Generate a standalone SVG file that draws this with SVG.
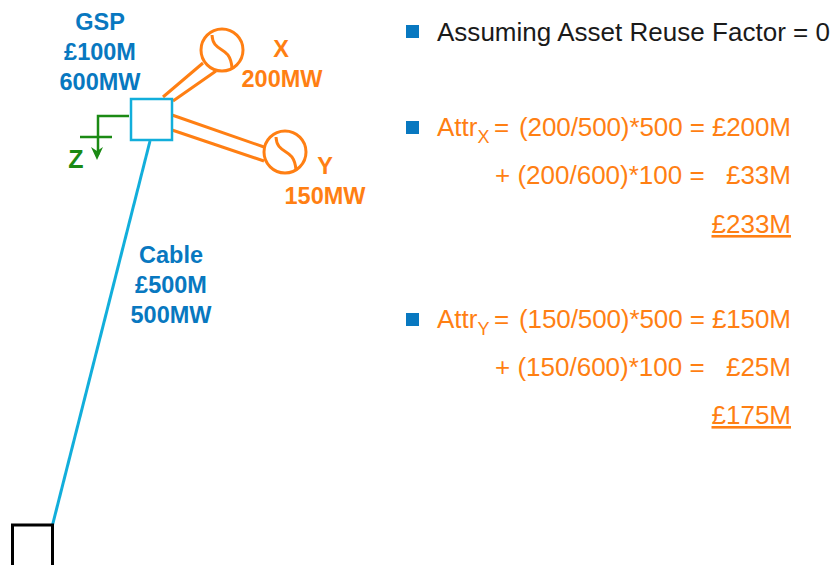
<svg xmlns="http://www.w3.org/2000/svg" width="832" height="565" viewBox="0 0 832 565">
<defs>
<style>
text{font-family:"Liberation Sans",Arial,sans-serif}
.lb{font-size:23.500px;font-weight:bold;text-anchor:middle}
.blue{fill:#0878c0}
.org{fill:#ff7f13}
.t{font-size:26px}
.e{font-size:26px;text-anchor:end;fill:#ff7f13}
.or{fill:none;stroke:#ff7f13;stroke-width:3}
.gr{fill:none;stroke:#1b8a14;stroke-width:2.500}
</style>
</defs>
<rect width="832" height="565" fill="#fff"/>
<g id="connectors">
<path class="or" d="M163 97L203 63M173 101L216 71"/>
<path class="or" d="M172 115L264 147M172 130L264 161"/>
<path d="M150 141L52 527" fill="none" stroke="#12aedb" stroke-width="3"/>
<path class="gr" d="M129 116H98V155M80 137H112"/>
<path d="M91 147L97 160L103 147L97 151Z" fill="#1b8a14"/>
</g>
<g id="gsp">
<rect x="131" y="99" width="41" height="41" fill="#fff" stroke="#12aedb" stroke-width="2.500"/>
<text class="lb blue" x="100" y="30">GSP</text>
<text class="lb blue" x="100" y="60">£100M</text>
<text class="lb blue" x="100" y="90">600MW</text>
</g>
<g id="genx">
<circle cx="222" cy="50" r="21" fill="#fff" class="or"/>
<path class="or" d="M212 35C213 54 230 44 232 68"/>
<text class="lb org" x="281" y="57">X</text>
<text class="lb org" x="282" y="87">200MW</text>
</g>
<g id="geny">
<circle cx="285" cy="152" r="21" fill="#fff" class="or"/>
<path class="or" d="M276 137C277 156 294 146 296 170"/>
<text class="lb org" x="325" y="174">Y</text>
<text class="lb org" x="325" y="204">150MW</text>
</g>
<g id="z"><text class="lb" x="76" y="168" font-size="25" style="font-size:25px" fill="#1b8a14">Z</text></g>
<g id="cable">
<text class="lb blue" x="171" y="263">Cable</text>
<text class="lb blue" x="171" y="293">£500M</text>
<text class="lb blue" x="171" y="323">500MW</text>
</g>
<g id="end"><path d="M12.500 565V525H52.500V565" fill="#fff" stroke="#000" stroke-width="3"/></g>
<g id="text">
<rect x="406" y="25" width="13" height="13" class="blue"/>
<text class="t" x="437" y="41" fill="#1a1a1a" textLength="393">Assuming Asset Reuse Factor = 0</text>
<rect x="406" y="121" width="13" height="13" class="blue"/>
<text class="t org" x="437" y="136">Attr<tspan font-size="18" dy="7">X</tspan></text>
<text class="t org" x="494" y="136">=</text>
<text class="e" x="791" y="136" textLength="272">(200/500)*500 = £200M</text>
<text class="t org" x="495" y="184">+ (200/600)*100 =</text>
<text class="e" x="791" y="184">£33M</text>
<text class="e" x="791" y="233" text-decoration="underline">£233M</text>
<rect x="406" y="313" width="13" height="13" class="blue"/>
<text class="t org" x="437" y="328">Attr<tspan font-size="18" dy="7">Y</tspan></text>
<text class="t org" x="494" y="328">=</text>
<text class="e" x="791" y="328" textLength="272">(150/500)*500 = £150M</text>
<text class="t org" x="495" y="376">+ (150/600)*100 =</text>
<text class="e" x="791" y="376">£25M</text>
<text class="e" x="791" y="424" text-decoration="underline">£175M</text>
</g>
</svg>
